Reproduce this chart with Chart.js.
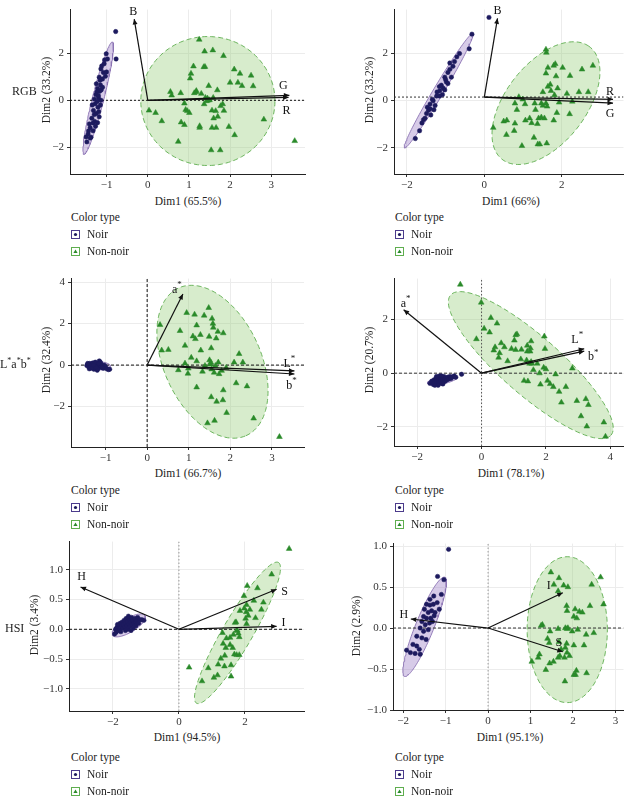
<!DOCTYPE html>
<html><head><meta charset="utf-8">
<script src="https://cdn.jsdelivr.net/npm/chart.js@4.4.1/dist/chart.umd.min.js"></script>
<style>
body{margin:0;width:628px;height:797px;position:relative;background:#fff;overflow:hidden;font-family:'Liberation Serif','DejaVu Serif',serif;color:#222}
canvas{position:absolute}
.t{position:absolute;white-space:nowrap;font-size:11.5px;line-height:1;transform:translate(-50%,-50%)}
.ty{transform:translate(-50%,-50%) rotate(-90deg)}
.row{position:absolute;white-space:nowrap;font-size:12px;line-height:1;transform:translateY(-50%)}
.row sup{font-size:8px;vertical-align:5px}
.lg{position:absolute;white-space:nowrap;font-size:11.5px;line-height:1}
.lg div{height:16.8px;display:flex;align-items:center}
.lg svg{margin-right:7px}
</style>
</head><body>
<script>
// ---------------- DATA ----------------
// RGB, left
const rgbA_noir = [[-0.78,2.91],[-0.77,1.75],[-1.01,1.97],[-1.05,1.71],[-0.98,1.75],[-1.14,1.33],[-1.08,1.18],[-1.00,1.20],[-1.18,0.98],[-1.10,0.90],[-1.03,1.02],[-1.22,0.50],[-1.17,0.38],[-1.13,0.44],[-1.26,0.24],[-1.20,0.11],[-1.14,0.00],[-1.28,-0.15],[-1.21,-0.29],[-1.15,-0.20],[-1.32,-0.43],[-1.25,-0.56],[-1.19,-0.48],[-1.36,-0.76],[-1.29,-0.90],[-1.33,-0.96],[-1.40,-1.16],[-1.33,-1.29],[-1.45,-1.43],[-1.38,-1.56],[-1.48,-1.76],[-1.40,-1.60],[-1.25,0.70],[-1.15,0.65],[-1.23,-0.05],[-1.30,0.05],[-1.18,-0.70],[-1.27,-1.10],[-1.20,0.20],[-1.10,0.55],[-1.35,-0.20],[-1.42,-1.00],[-1.12,1.45],[-1.06,1.55],[-1.24,0.35],[-1.30,-0.60],[-1.22,-0.95],[-1.44,-1.30],[-1.50,-1.55],[-1.16,0.85]];
const rgbA_non = [[1.25,2.57],[1.38,2.07],[1.58,2.12],[1.84,1.88],[1.11,1.44],[1.36,1.41],[1.39,1.42],[2.10,1.31],[2.24,1.13],[2.51,1.05],[1.05,1.13],[1.03,0.93],[2.00,0.75],[2.19,0.75],[2.29,0.61],[2.56,0.60],[1.48,0.61],[1.69,0.43],[1.18,0.40],[1.17,0.35],[0.55,0.36],[0.58,0.21],[0.80,0.31],[1.13,0.31],[1.30,0.28],[1.40,0.11],[1.45,0.08],[1.47,0.00],[1.50,0.01],[1.43,-0.03],[1.59,0.11],[0.89,-0.13],[1.37,-0.16],[1.82,-0.16],[0.03,-0.43],[0.19,-0.53],[0.92,-0.40],[0.96,-0.45],[1.01,-0.53],[1.56,-0.43],[1.65,-0.45],[1.85,-0.44],[1.77,-0.24],[0.34,-0.88],[0.81,-0.93],[0.89,-1.04],[1.26,-1.09],[1.26,-1.16],[1.60,-0.76],[1.70,-0.69],[1.56,-1.16],[1.66,-1.16],[1.97,-1.12],[2.82,-0.81],[2.11,-1.47],[0.74,-1.75],[1.54,-2.11],[1.76,-2.11],[3.57,-1.72]];
const rgbA_vars = ['B','G','R'];
const rgbA_vx = [-0.33,3.44,3.42];
const rgbA_vy = [3.44,0.21,0.12];
const rgbA_origin = [0,0];
const rgbA_ellNoir = [-1.205,0.09,0.345,2.38,0.137,-0.054];
const rgbA_ellNon = [1.46,-0.03,1.63,0,0,2.73];
const rgbA_xTicks = [-1,0,1,2,3];
const rgbA_yTicks = [-2,0,2];

// RGB, right
const rgbB_noir = [[0.12,3.52],[-0.32,2.81],[-0.39,2.19],[-0.71,1.85],[-0.81,1.45],[-0.89,1.32],[-0.94,1.19],[-1.02,0.99],[-0.85,0.99],[-0.98,0.79],[-1.11,0.65],[-1.06,0.52],[-1.15,0.41],[-1.22,0.36],[-1.02,0.45],[-1.23,0.19],[-1.32,-0.01],[-1.40,-0.15],[-1.27,-0.21],[-1.44,-0.41],[-1.49,-0.55],[-1.38,-0.61],[-1.57,-0.81],[-1.61,-0.95],[-1.67,-1.28],[-1.78,-1.61],[-1.16,0.59],[-0.94,0.72],[-1.08,0.25],[-1.34,0.05],[-1.47,-0.28],[-1.30,-0.39],[-1.53,-0.75],[-0.89,1.59],[-0.64,1.99],[-0.77,1.65],[-1.00,0.89],[-1.15,0.19],[-1.40,-0.35]];
const rgbB_non = [[1.59,2.16],[1.60,2.03],[1.83,1.55],[1.79,1.48],[1.64,1.39],[2.02,1.39],[2.52,1.32],[2.80,1.48],[1.59,1.15],[1.85,1.03],[2.21,1.05],[1.70,0.68],[1.64,0.59],[1.89,0.52],[1.72,0.41],[2.13,0.29],[2.44,0.36],[2.68,0.36],[1.51,0.36],[1.81,0.23],[0.89,0.15],[0.99,0.05],[0.79,-0.12],[1.05,-0.15],[1.30,-0.12],[1.47,-0.12],[1.51,-0.21],[1.59,-0.12],[1.93,-0.08],[2.27,-0.04],[1.62,-0.25],[0.84,-0.39],[1.32,-0.39],[1.87,-0.52],[2.20,-0.57],[0.50,-0.88],[0.58,-0.84],[0.79,-0.97],[1.17,-0.75],[1.06,-0.84],[1.22,-0.95],[1.40,-0.75],[1.47,-0.71],[1.37,-0.99],[1.79,-0.84],[0.23,-1.15],[0.77,-1.28],[0.57,-1.45],[1.28,-1.57],[1.38,-1.85],[1.43,-1.85],[1.61,-1.81],[0.97,-1.92],[1.55,-0.75]];
const rgbB_vars = ['B','R','G'];
const rgbB_vx = [0.34,3.32,3.32];
const rgbB_vy = [3.48,0.05,-0.11];
const rgbB_origin = [0,0.147];
const rgbB_ellNoir = [-1.175,0.42,0.885,2.43,0.114,-0.104];
const rgbB_ellNon = [1.59,-0.11,1.106,2.41,-0.846,0.97];
const rgbB_xTicks = [-2,0,2];
const rgbB_yTicks = [-2,0,2];

// L*a*b*, left
const labA_noir = [[-1.45,-0.02],[-1.42,0.05],[-1.40,-0.10],[-1.38,0.08],[-1.36,-0.05],[-1.35,-0.15],[-1.33,0.02],[-1.31,0.10],[-1.30,-0.08],[-1.28,-0.20],[-1.27,0.04],[-1.25,-0.12],[-1.24,0.14],[-1.22,0.00],[-1.21,-0.06],[-1.20,-0.25],[-1.18,0.06],[-1.17,-0.14],[-1.15,0.20],[-1.14,-0.03],[-1.12,0.10],[-1.10,-0.10],[-1.09,0.02],[-1.07,-0.06],[-1.05,-0.15],[-1.03,0.00],[-1.00,-0.08],[-0.97,-0.18],[-0.93,-0.22],[-0.90,-0.20],[-1.39,-0.18],[-1.26,0.12],[-1.19,-0.18],[-1.13,0.15],[-1.32,-0.12],[-1.23,-0.10],[-1.16,0.08],[-1.08,-0.13],[-1.43,0.08],[-1.29,0.00]];
const labA_non = [[1.48,2.76],[0.95,2.52],[1.14,2.44],[1.37,2.39],[1.56,2.24],[1.58,2.00],[1.59,1.81],[1.19,1.92],[0.31,1.94],[0.79,1.65],[1.70,1.61],[1.83,1.54],[1.28,1.46],[1.10,1.39],[1.16,1.26],[1.49,1.37],[1.66,1.29],[0.91,0.94],[0.35,0.71],[0.51,0.74],[1.29,0.71],[1.54,0.82],[1.06,0.36],[1.19,0.19],[0.91,0.08],[1.50,0.24],[1.53,0.13],[1.52,0.03],[1.71,0.13],[2.09,0.13],[2.21,0.54],[2.30,0.13],[0.99,-0.16],[0.75,-0.24],[1.33,-0.31],[1.55,-0.20],[1.61,-0.36],[1.73,-0.43],[1.79,-0.27],[1.90,-0.13],[0.98,-0.41],[1.19,-1.07],[2.14,-0.87],[2.40,-1.02],[1.83,-1.21],[1.54,-1.54],[1.82,-1.69],[1.67,-1.76],[1.91,-2.30],[2.56,-2.57],[1.62,-2.68],[1.45,-2.80],[3.18,-3.46],[1.64,-0.03],[1.39,-0.03]];
const labA_vars = ['a*','L*','b*'];
const labA_vx = [0.86,3.54,3.54];
const labA_vy = [3.43,-0.28,-0.43];
const labA_origin = [0,0];
const labA_ellNoir = [-1.18,-0.03,0.30,-0.04,0.02,0.20];
const labA_ellNon = [1.57,0.16,0.80,-3.57,1.07,0.92];
const labA_xTicks = [-1,0,1,2,3];
const labA_yTicks = [-2,0,2,4];

// L*a*b*, right
const labB_noir = [[-1.60,-0.38],[-1.55,-0.30],[-1.50,-0.42],[-1.48,-0.25],[-1.45,-0.35],[-1.42,-0.20],[-1.40,-0.30],[-1.38,-0.40],[-1.36,-0.15],[-1.34,-0.26],[-1.32,-0.35],[-1.30,-0.10],[-1.28,-0.22],[-1.27,-0.30],[-1.25,-0.38],[-1.23,-0.18],[-1.21,-0.27],[-1.19,-0.33],[-1.17,-0.12],[-1.15,-0.22],[-1.13,-0.30],[-1.10,-0.18],[-1.08,-0.25],[-1.05,-0.15],[-1.02,-0.22],[-0.98,-0.12],[-0.95,-0.20],[-0.90,-0.14],[-0.85,-0.10],[-0.80,-0.15],[-0.62,-0.04],[-1.35,-0.45],[-1.45,-0.45],[-1.25,-0.10],[-1.20,-0.40],[-1.40,-0.12]];
const labB_non = [[-0.66,3.30],[-0.01,2.63],[0.29,2.06],[0.48,1.85],[-0.16,1.27],[0.08,1.66],[0.25,1.52],[0.42,0.97],[0.61,1.12],[0.71,0.97],[0.56,0.75],[0.38,0.85],[0.81,0.45],[0.53,0.58],[1.02,1.22],[1.06,1.42],[1.10,1.45],[0.93,0.91],[1.06,0.87],[1.24,0.88],[1.42,0.81],[1.51,0.81],[1.54,1.19],[1.42,1.03],[1.52,0.93],[1.95,1.37],[1.97,0.91],[1.22,0.52],[1.40,0.48],[1.49,0.36],[1.56,0.36],[1.73,0.36],[1.54,0.42],[1.93,0.21],[2.00,0.15],[2.82,0.18],[1.32,-0.28],[1.44,-0.30],[1.61,0.12],[1.80,0.00],[2.05,-0.28],[2.13,-0.40],[2.23,-0.51],[2.30,-0.04],[1.83,-0.42],[2.41,-0.69],[2.62,-0.51],[2.48,-1.09],[2.96,-1.03],[3.24,-0.96],[3.32,-1.18],[3.09,-1.60],[3.27,-1.98],[3.80,-1.83],[3.85,-2.36]];
const labB_vars = ['a*','L*','b*'];
const labB_vx = [-2.42,3.19,3.19];
const labB_vy = [2.36,0.91,0.82];
const labB_origin = [0,0];
const labB_ellNoir = [-1.22,-0.26,0.46,0.11,-0.03,0.13];
const labB_ellNon = [1.53,0.30,2.49,-2.61,0.60,0.82];
const labB_xTicks = [-2,0,2,4];
const labB_yTicks = [-2,0,2];

// HSI, left
const hsiA_noir = [[-1.95,-0.08],[-1.92,0.00],[-1.90,-0.05],[-1.88,0.03],[-1.85,-0.02],[-1.83,0.07],[-1.80,0.00],[-1.78,0.10],[-1.76,-0.04],[-1.74,0.05],[-1.72,0.12],[-1.70,0.02],[-1.68,0.08],[-1.66,0.15],[-1.64,0.04],[-1.62,0.10],[-1.60,0.18],[-1.58,0.06],[-1.56,0.13],[-1.54,0.00],[-1.52,0.09],[-1.50,0.17],[-1.48,0.05],[-1.46,0.12],[-1.44,0.20],[-1.42,0.08],[-1.40,0.15],[-1.38,0.02],[-1.36,0.10],[-1.34,0.18],[-1.32,0.12],[-1.30,0.06],[-1.28,0.15],[-1.25,0.20],[-1.22,0.10],[-1.18,0.16],[-1.12,0.16],[-1.06,0.15],[-1.86,0.08],[-1.62,-0.02],[-1.53,0.22],[-1.45,-0.02]];
const hsiA_non = [[3.34,1.35],[2.81,0.92],[2.07,0.73],[2.38,0.69],[1.97,0.56],[2.27,0.48],[2.56,0.45],[2.05,0.41],[1.98,0.35],[2.50,0.33],[1.85,0.31],[2.04,0.29],[2.15,0.33],[2.10,0.23],[2.32,0.19],[2.02,0.18],[1.73,0.12],[1.70,0.11],[2.05,0.09],[1.77,-0.02],[1.80,-0.07],[1.83,-0.13],[1.32,-0.06],[1.44,-0.15],[1.55,-0.14],[1.34,-0.24],[1.55,-0.26],[1.42,-0.31],[1.63,-0.31],[1.75,-0.43],[1.83,-0.43],[1.68,-0.42],[1.27,-0.49],[1.58,-0.60],[1.38,-0.62],[1.19,-0.59],[1.39,-0.44],[0.89,-0.65],[0.31,-0.64],[1.17,-0.77],[1.06,-0.81],[0.70,-0.87],[1.58,-0.79],[1.75,-0.02],[1.65,-0.09]];
const hsiA_vars = ['H','S','I'];
const hsiA_vx = [-2.98,2.96,2.96];
const hsiA_vy = [0.71,0.67,0.05];
const hsiA_origin = [0,0];
const hsiA_ellNoir = [-1.52,0.065,0.49,0.165,0.112,-0.099];
const hsiA_ellNon = [1.775,-0.06,1.24,1.18,0.40,-0.12];
const hsiA_xTicks = [-2,0,2];
const hsiA_yTicks = [-1,-0.5,0,0.5,1];

// HSI, right
const hsiB_noir = [[-0.93,0.96],[-1.19,0.63],[-1.04,0.59],[-1.45,0.29],[-1.37,0.28],[-1.29,0.29],[-1.20,0.31],[-1.50,0.23],[-1.41,0.19],[-1.33,0.21],[-1.25,0.19],[-1.15,0.23],[-1.52,0.14],[-1.45,0.12],[-1.35,0.12],[-1.27,0.15],[-1.56,0.08],[-1.48,0.04],[-1.38,0.06],[-1.31,0.08],[-1.60,0.00],[-1.52,-0.04],[-1.41,-0.02],[-1.68,-0.10],[-1.56,-0.12],[-1.46,-0.14],[-1.77,-0.20],[-1.68,-0.22],[-1.62,-0.26],[-1.92,-0.27],[-1.83,-0.30],[-1.72,-0.31],[-1.60,-0.32],[-1.37,0.35],[-1.28,0.39],[-1.10,0.41]];
const hsiB_non = [[1.48,0.68],[1.67,0.61],[2.65,0.62],[2.44,0.53],[1.55,0.53],[1.78,0.52],[1.88,0.50],[1.65,0.45],[1.85,0.27],[1.86,0.21],[2.05,0.23],[2.15,0.20],[2.22,0.19],[2.40,0.27],[2.72,0.29],[2.02,0.14],[2.09,0.12],[1.28,0.04],[1.25,0.03],[1.82,0.00],[1.86,-0.01],[1.88,0.00],[1.65,-0.01],[1.98,-0.04],[2.11,-0.02],[2.31,-0.08],[2.49,-0.06],[1.46,-0.04],[1.40,-0.13],[1.44,-0.18],[1.67,-0.17],[1.85,-0.19],[2.02,-0.21],[2.26,-0.21],[1.72,-0.26],[1.82,-0.24],[1.86,-0.30],[1.92,-0.34],[1.21,-0.32],[1.18,-0.36],[1.03,-0.41],[1.45,-0.43],[1.36,-0.51],[1.54,-0.41],[1.80,-0.36],[1.69,-0.34],[2.08,-0.52],[2.06,-0.57],[2.02,-0.57],[2.32,-0.55],[1.81,-0.65],[1.65,-0.36]];
const hsiB_vars = ['H','I','S'];
const hsiB_vx = [-1.82,1.76,1.76];
const hsiB_vy = [0.11,0.43,-0.29];
const hsiB_origin = [0,0];
const hsiB_ellNoir = [-1.495,0.015,0.473,0.605,0.20,-0.042];
const hsiB_ellNon = [1.865,-0.02,0.945,0,0,0.89];
const hsiB_xTicks = [-2,-1,0,1,2,3];
const hsiB_yTicks = [-1,-0.5,0,0.5,1];

const xRanges = [[-1.89,3.82],[-2.33,3.59],[-1.83,3.77],[-2.72,4.41],[-3.33,3.79],[-2.24,3.19]];
const yRanges = [[-3.12,3.84],[-3.11,3.85],[-3.95,4.17],[-2.71,3.52],[-1.37,1.47],[-1.00,1.03]];
const xTitles = ['Dim1 (65.5%)','Dim1 (66%)','Dim1 (66.7%)','Dim1 (78.1%)','Dim1 (94.5%)','Dim1 (95.1%)'];
const yTitles = ['Dim2 (33.2%)','Dim2 (33.2%)','Dim2 (32.4%)','Dim2 (20.7%)','Dim2 (3.4%)','Dim2 (2.9%)'];
const legendTitle = 'Color type';
const groups = ['Noir','Non-noir'];

// ---------------- LAYOUT / STYLE ----------------
const C_NOIR = '#1d1a5e', C_NON = '#2a8a2a';
const panels = [
 {L0:0,  L:70, R:305, T:0,   B:174, d:[rgbA_noir,rgbA_non,rgbA_vars,rgbA_vx,rgbA_vy,rgbA_origin,rgbA_ellNoir,rgbA_ellNon,rgbA_xTicks,rgbA_yTicks], dec:0,
  lab:[[-1,-7],[-6,-9],[-2,13]], h:'#111', hd:[2,2], v:null, xt:[188,202], yt:[47,90], lg:[71,218]},
 {L0:314,L:394,R:628, T:0,   B:174, d:[rgbB_noir,rgbB_non,rgbB_vars,rgbB_vx,rgbB_vy,rgbB_origin,rgbB_ellNoir,rgbB_ellNon,rgbB_xTicks,rgbB_yTicks], dec:0,
  lab:[[0,-7],[-3,-8],[-3,11]], h:'#333', hd:[2,2], v:null, xt:[511,202], yt:[370,90], lg:[395,218]},
 {L0:0,  L:71, R:304, T:275, B:447, d:[labA_noir,labA_non,labA_vars,labA_vx,labA_vy,labA_origin,labA_ellNoir,labA_ellNon,labA_xTicks,labA_yTicks], dec:0,
  lab:[[-6,-4],[-5,-7],[-3,12]], h:'#111', hd:[3,2], v:'#111', vd:[3,2], xt:[188,474], yt:[47,360], lg:[71,491]},
 {L0:314,L:394,R:628, T:275, B:446, d:[labB_noir,labB_non,labB_vars,labB_vx,labB_vy,labB_origin,labB_ellNoir,labB_ellNon,labB_xTicks,labB_yTicks], dec:0,
  lab:[[2,-6],[-7,-9],[9,6]], h:'#333', hd:[3,2], v:'#555', vd:[1.5,2], xt:[511,474], yt:[370,360], lg:[395,491]},
 {L0:0,  L:69, R:304, T:538, B:711, d:[hsiA_noir,hsiA_non,hsiA_vars,hsiA_vx,hsiA_vy,hsiA_origin,hsiA_ellNoir,hsiA_ellNon,hsiA_xTicks,hsiA_yTicks], dec:1,
  lab:[[1,-10],[8,3],[7,-3]], h:'#111', hd:[3,2], v:'#999', vd:[1.5,2], xt:[187,738], yt:[35,625], lg:[71,758]},
 {L0:314,L:393,R:628, T:540, B:710, d:[hsiB_noir,hsiB_non,hsiB_vars,hsiB_vx,hsiB_vy,hsiB_origin,hsiB_ellNoir,hsiB_ellNon,hsiB_xTicks,hsiB_yTicks], dec:1,
  lab:[[-7,-4],[-14,-7],[-4,-9]], h:'#333', hd:[3,2], v:'#999', vd:[1.5,2], xt:[510,738], yt:[357,626], lg:[395,758]}
];
const rowLabels = [['RGB',12,91],['L<sup>*</sup>a<sup>*</sup>b<sup>*</sup>',0,363],['HSI',5,628]];

function ellipse(e){
  const pts=[]; const n=120;
  for(let i=0;i<=n;i++){const t=i/n*2*Math.PI;
    pts.push({x:e[0]+e[2]*Math.cos(t)+e[4]*Math.sin(t), y:e[1]+e[3]*Math.cos(t)+e[5]*Math.sin(t)});}
  return pts;
}
function fmt(v,dec){const s=Math.abs(v).toFixed(dec);return (v<0?'\u2212':'')+s;}
const FONT='Liberation Serif';

panels.forEach((p,i)=>{
  const [noir,non,vars,vx,vy,org,eN,eG,xT,yT]=p.d;
  const xr=xRanges[i], yr=yRanges[i];
  const top=Math.max(0,p.T-6), h=p.B+20-top;
  const cv=document.createElement('canvas');
  cv.width=314; cv.height=h;
  cv.style.left=p.L0+'px'; cv.style.top=top+'px'; cv.style.width='314px'; cv.style.height=h+'px';
  document.body.appendChild(cv);
  const ds=[];
  ds.push({type:'line',data:ellipse(eG),borderColor:'#5fae4f',borderWidth:0.9,borderDash:[5,3],backgroundColor:'rgba(150,205,120,0.38)',fill:'shape',pointRadius:0,tension:0,order:9});
  ds.push({type:'line',data:ellipse(eN),borderColor:'#8b73b3',borderWidth:0.9,backgroundColor:'rgba(160,130,200,0.42)',fill:'shape',pointRadius:0,tension:0,order:8});
  ds.push({type:'line',data:[{x:xr[0],y:org[1]},{x:xr[1],y:org[1]}],borderColor:p.h,borderWidth:1,borderDash:p.hd,pointRadius:0,fill:false,order:7});
  if(p.v) ds.push({type:'line',data:[{x:0,y:yr[0]},{x:0,y:yr[1]}],borderColor:p.v,borderWidth:1,borderDash:p.vd,pointRadius:0,fill:false,order:7});
  ds.push({type:'scatter',label:groups[0],data:noir.map(a=>({x:a[0],y:a[1]})),pointStyle:'circle',pointRadius:2.2,backgroundColor:C_NOIR,borderColor:C_NOIR,borderWidth:0.5,order:5});
  ds.push({type:'scatter',label:groups[1],data:non.map(a=>({x:a[0],y:a[1]})),pointStyle:'triangle',pointRadius:3.3,backgroundColor:C_NON,borderColor:C_NON,borderWidth:0.5,order:4});
  vars.forEach((n,k)=>{
    ds.push({type:'line',label:n,data:[{x:org[0],y:org[1]},{x:vx[k],y:vy[k]}],borderColor:'#111',borderWidth:1.2,pointRadius:0,fill:false,order:1});
  });
  const arrowPlugin={id:'arr'+i,afterDatasetsDraw(chart){
    const ctx=chart.ctx, xs=chart.scales.x, ys=chart.scales.y;
    const ox=xs.getPixelForValue(org[0]), oy=ys.getPixelForValue(org[1]);
    ctx.save();
    vars.forEach((n,k)=>{
      const tx=xs.getPixelForValue(vx[k]), ty=ys.getPixelForValue(vy[k]);
      const a=Math.atan2(ty-oy,tx-ox), L=6, w=0.42;
      ctx.fillStyle='#111'; ctx.beginPath();
      ctx.moveTo(tx,ty);
      ctx.lineTo(tx-L*Math.cos(a-w),ty-L*Math.sin(a-w));
      ctx.lineTo(tx-L*Math.cos(a+w),ty-L*Math.sin(a+w));
      ctx.closePath(); ctx.fill();
      const lx=tx+p.lab[k][0], ly=ty+p.lab[k][1];
      ctx.fillStyle='#111'; ctx.textBaseline='middle';
      if(n.endsWith('*')){
        const base=n.slice(0,-1);
        ctx.font='12px "'+FONT+'"'; const bw=ctx.measureText(base).width;
        ctx.font='9px "'+FONT+'"'; const sw=ctx.measureText('*').width;
        const sx=lx-(bw+sw)/2;
        ctx.textAlign='left';
        ctx.font='12px "'+FONT+'"'; ctx.fillText(base,sx,ly);
        ctx.font='9px "'+FONT+'"'; ctx.fillText('*',sx+bw,ly-5);
      } else {
        ctx.font='12px "'+FONT+'"'; ctx.textAlign='center'; ctx.fillText(n,lx,ly);
      }
    });
    ctx.restore();
  }};
  new Chart(cv,{type:'scatter',data:{datasets:ds},plugins:[arrowPlugin],
    options:{responsive:false,animation:false,events:[],devicePixelRatio:1,
      layout:{padding:{top:p.T-top,right:p.L0+314-p.R,left:0,bottom:0}},
      plugins:{legend:{display:false},tooltip:{enabled:false}},
      scales:{
        x:{type:'linear',min:xr[0],max:xr[1],
          afterBuildTicks:s=>{s.ticks=xT.map(v=>({value:v}));},
          afterFit:s=>{s.height=20;},
          grid:{color:'#ececec',lineWidth:1,drawTicks:true,tickLength:3,tickColor:'#333'},
          border:{display:true,color:'#222',width:1},
          ticks:{font:{family:FONT,size:11},color:'#333',padding:2,maxRotation:0,autoSkip:false,callback:v=>fmt(v,0)}},
        y:{type:'linear',min:yr[0],max:yr[1],
          afterBuildTicks:s=>{s.ticks=yT.map(v=>({value:v}));},
          afterFit:s=>{s.width=p.L-p.L0;},
          grid:{color:'#ececec',lineWidth:1,drawTicks:true,tickLength:3,tickColor:'#333'},
          border:{display:true,color:'#222',width:1},
          ticks:{font:{family:FONT,size:11},color:'#333',padding:3,autoSkip:false,callback:v=>fmt(v,p.dec)}}
      }}});
  // titles
  const xt=document.createElement('div'); xt.className='t'; xt.textContent=xTitles[i];
  xt.style.left=p.xt[0]+'px'; xt.style.top=p.xt[1]+'px'; document.body.appendChild(xt);
  const yt=document.createElement('div'); yt.className='t ty'; yt.textContent=yTitles[i];
  yt.style.left=p.yt[0]+'px'; yt.style.top=p.yt[1]+'px'; document.body.appendChild(yt);
  // legend
  const lg=document.createElement('div'); lg.className='lg';
  lg.style.left=p.lg[0]+'px'; lg.style.top=(p.lg[1]-8.4)+'px';
  const sym0='<svg width="9" height="9"><rect x="0.5" y="0.5" width="8" height="8" fill="#fff" stroke="#4b3b8c"/><circle cx="4.5" cy="4.5" r="1.6" fill="'+C_NOIR+'"/></svg>';
  const sym1='<svg width="9" height="9"><rect x="0.5" y="0.5" width="8" height="8" fill="#fff" stroke="#5fae4f"/><path d="M4.5 2.4 L6.6 6.1 L2.4 6.1 Z" fill="'+C_NON+'"/></svg>';
  lg.innerHTML='<div>'+legendTitle+'</div><div>'+sym0+groups[0]+'</div><div>'+sym1+groups[1]+'</div>';
  document.body.appendChild(lg);
});
rowLabels.forEach(r=>{const d=document.createElement('div');d.className='row';d.innerHTML=r[0];d.style.left=r[1]+'px';d.style.top=r[2]+'px';document.body.appendChild(d);});
</script>
</body></html>
